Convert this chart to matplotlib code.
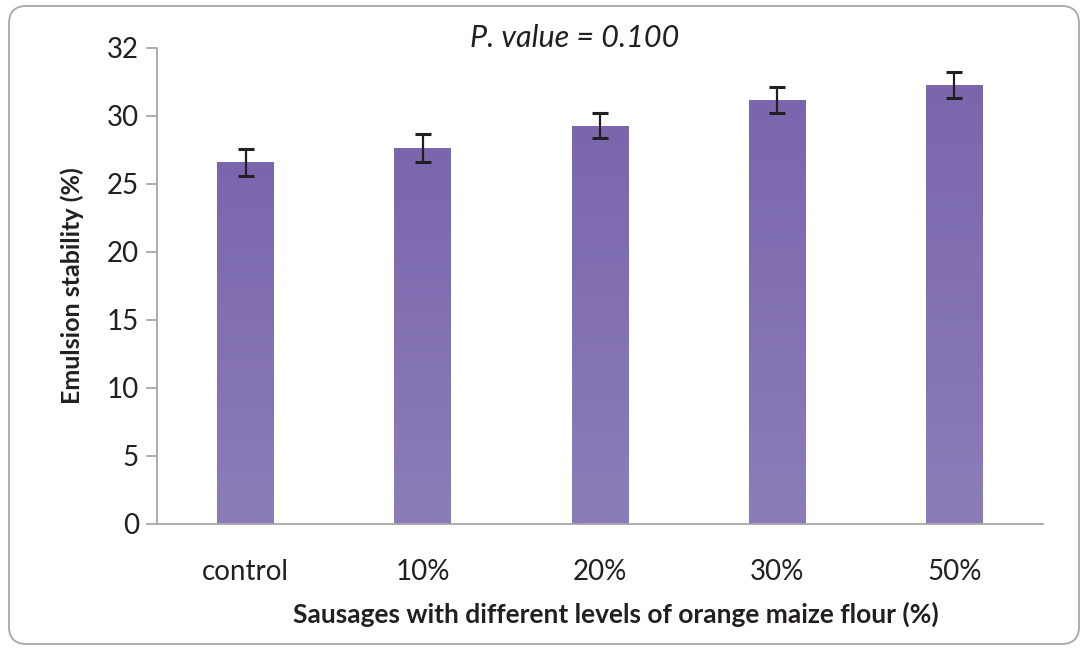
import numpy as np
import matplotlib
matplotlib.use("Agg")
import matplotlib.pyplot as plt
from matplotlib.patches import FancyBboxPatch
from matplotlib.colors import LinearSegmentedColormap

plt.rcParams['font.family'] = ['Lato', 'DejaVu Sans']

# data
categories = ["control", "10%", "20%", "30%", "50%"]
values = [26.6, 27.65, 29.3, 31.2, 32.3]
errors = [1.0, 1.0, 0.95, 0.95, 0.95]
ytick_pos = [0, 5, 10, 15, 20, 25, 30, 35]
ytick_labels = ["0", "5", "10", "15", "20", "25", "30", "32"]

fig = plt.figure(figsize=(10.86, 6.5), dpi=100)
ax = fig.add_axes([157 / 1086, 1 - 524 / 650, (1043 - 157) / 1086, (524 - 48) / 650])

# rounded frame round the chart
frame = FancyBboxPatch((9 / 1086, 6 / 650), 1070 / 1086, 638 / 650,
                       boxstyle="round,pad=0,rounding_size=0.016",
                       transform=fig.transFigure, fill=False,
                       edgecolor="#a6a6a6", linewidth=1.3, mutation_aspect=1086 / 650)
fig.patches.append(frame)

x = np.arange(len(categories))
bars = ax.bar(x, values, width=0.32, color="none", edgecolor="none", zorder=2)

# vertical gradient inside each bar, dark at top, lighter at bottom
cmap = LinearSegmentedColormap.from_list("purp", ["#8c7dba", "#7a66ad"])
grad = np.linspace(0, 1, 256).reshape(-1, 1)
for b in bars:
    x0, w, h = b.get_x(), b.get_width(), b.get_height()
    im = ax.imshow(grad, extent=[x0, x0 + w, 0, h], origin="lower",
                   cmap=cmap, aspect="auto", zorder=2)
    im.set_clip_path(b)

ax.errorbar(x, values, yerr=errors, fmt="none", ecolor="#231f20",
            elinewidth=1.6, capsize=5.5, capthick=2.2, zorder=3)

ax.set_xlim(-0.5, len(categories) - 0.5)
ax.set_ylim(0, 35)
ax.set_yticks(ytick_pos)
ax.set_yticklabels(ytick_labels)
ax.set_xticks(x)
ax.set_xticklabels(categories)

for s in ["top", "right"]:
    ax.spines[s].set_visible(False)
for s in ["left", "bottom"]:
    ax.spines[s].set_color("#a6a6a6")
    ax.spines[s].set_linewidth(1.3)
ax.tick_params(axis="y", direction="out", length=8, width=1.3, color="#a6a6a6",
               labelsize=20, labelcolor="#231f20", pad=5)
ax.tick_params(axis="x", length=0, labelsize=20, labelcolor="#231f20", pad=25)

ax.set_ylabel("Emulsion stability (%)", fontsize=18, fontweight="bold",
              color="#231f20", labelpad=16)
ax.set_xlabel("Sausages with different levels of orange maize flour (%)",
              fontsize=19, fontweight="bold", color="#231f20")
ax.xaxis.set_label_coords(0.518, -0.163)

fig.text(575 / 1086, 1 - 38 / 650, "P. value = 0.100", fontsize=22,
         style="italic", color="#231f20", ha="center", va="center")

fig.savefig("out.png", dpi=100)
